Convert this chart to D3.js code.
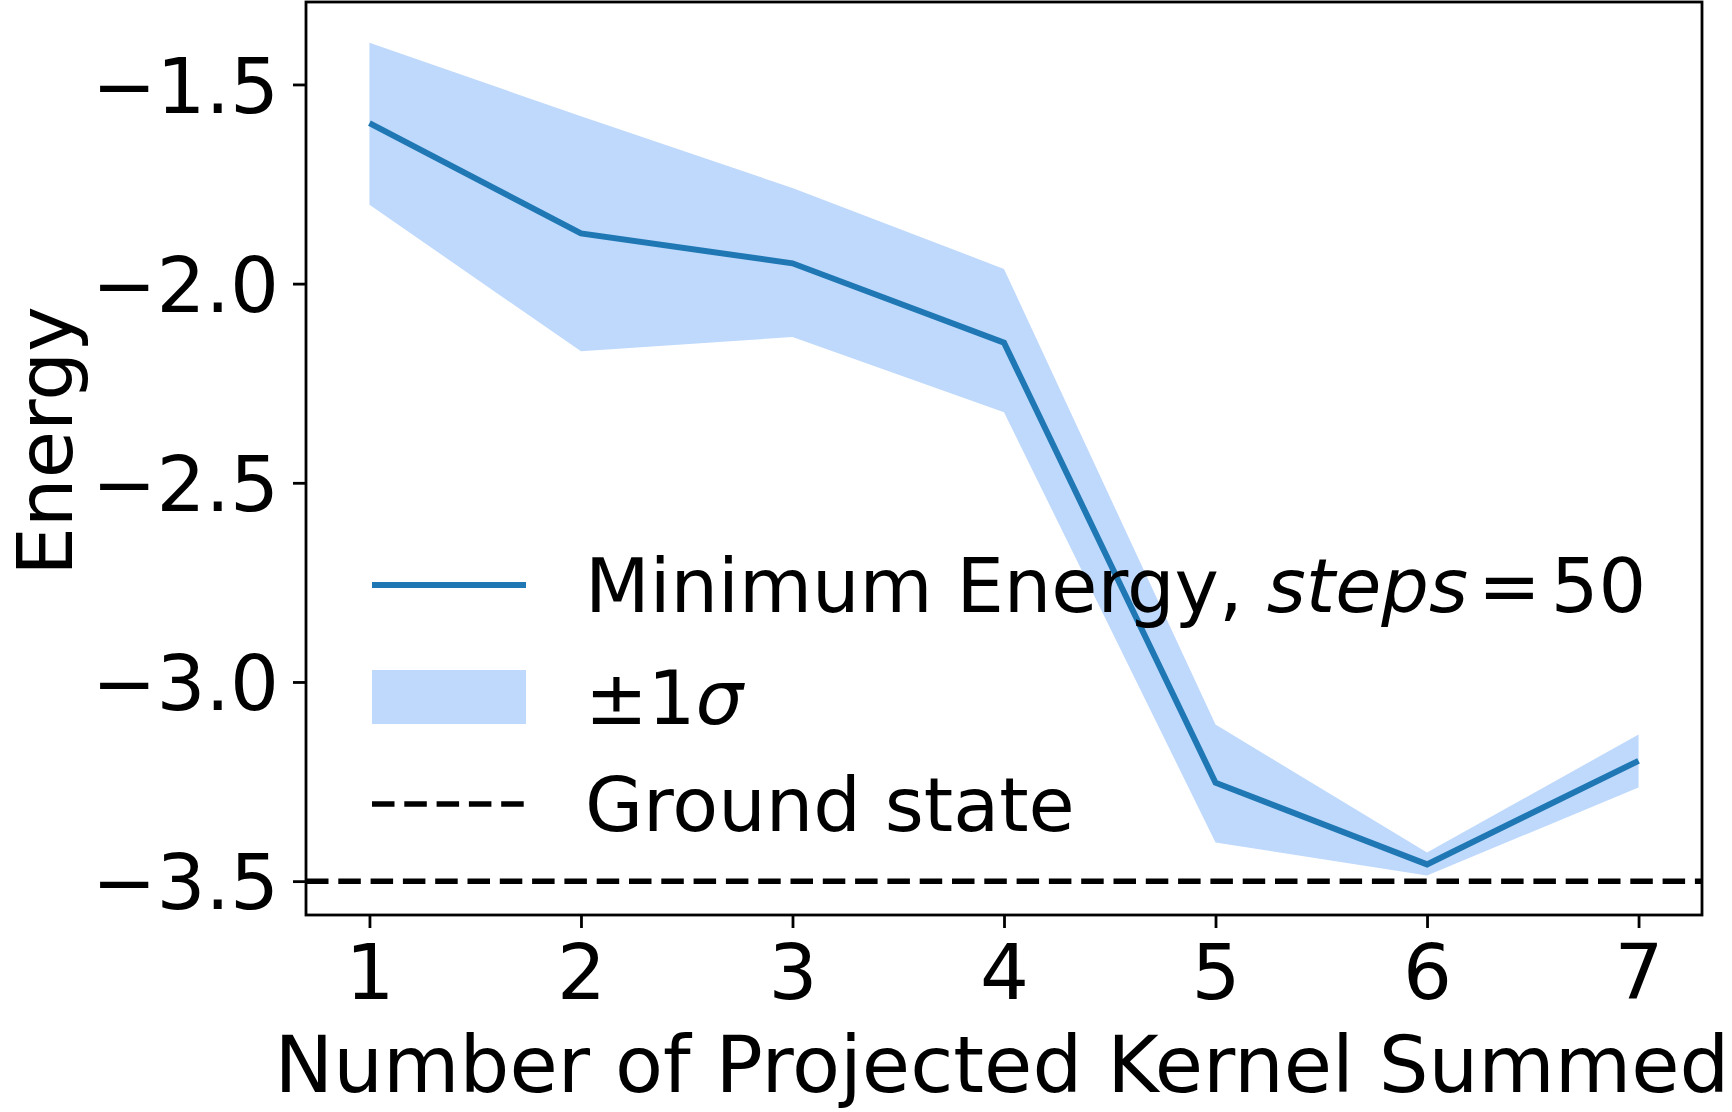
<!DOCTYPE html>
<html>
<head>
<meta charset="utf-8">
<script src="https://cdn.jsdelivr.net/npm/d3@7"></script>
<style>
    body { margin: 0; background: #fff; }
    svg { display: block; font-family: 'DejaVu Sans', sans-serif; }
    .axis text { font-family: 'DejaVu Sans', sans-serif; font-size: 77px; fill: #000; }
    .axis path, .axis line { stroke: #000; stroke-width: 2.8; }
</style>
</head>
<body>
<svg id="chart"></svg>
<script>
const kernels = [1, 2, 3, 4, 5, 6, 7]
const minEnergy = [-1.597, -1.874, -1.949, -2.148, -3.253, -3.458, -3.198]
const upperBand = [-1.395, -1.580, -1.760, -1.963, -3.107, -3.428, -3.132]
const lowerBand = [-1.802, -2.170, -2.134, -2.323, -3.403, -3.486, -3.265]
const groundState = -3.5
const xTicks = [1, 2, 3, 4, 5, 6, 7]
const yTicks = [-1.5, -2.0, -2.5, -3.0, -3.5]

const WIDTH = 1732
const HEIGHT = 1112
const padding = { top: 2, right: 30, bottom: 197, left: 306 }

const LINE_COLOR = '#1f77b4'
const BAND_COLOR = '#bfd9fc'
const LABEL_FONT = 78.5
const LEGEND_FONT = 75
const DASHES = '22.5 9.8'

const svg = d3.select('#chart')
    .attr('width', WIDTH)
    .attr('height', HEIGHT)
    .attr('viewBox', [0, 0, WIDTH, HEIGHT].join(' '))

const x = d3.scaleLinear()
    .domain([0.7, 7.3])
    .range([padding.left, WIDTH - padding.right])

const y = d3.scaleLinear()
    .domain([-3.585, -1.293])
    .range([HEIGHT - padding.bottom, padding.top])

const rows = kernels.map((k, i) => ({ k, mean: minEnergy[i], hi: upperBand[i], lo: lowerBand[i] }))

// the ±1σ band
svg.append('path')
    .datum(rows)
    .attr('fill', BAND_COLOR)
    .attr('d', d3.area().x(d => x(d.k)).y0(d => y(d.lo)).y1(d => y(d.hi)))

// mean line
svg.append('path')
    .datum(rows)
    .attr('fill', 'none')
    .attr('stroke', LINE_COLOR)
    .attr('stroke-width', 6)
    .attr('d', d3.line().x(d => x(d.k)).y(d => y(d.mean)))

// ground state
svg.append('line')
    .attr('x1', x.range()[0]).attr('x2', x.range()[1])
    .attr('y1', y(groundState)).attr('y2', y(groundState))
    .attr('stroke', '#000')
    .attr('stroke-width', 5.5)
    .attr('stroke-dasharray', DASHES)

// frame
svg.append('rect')
    .attr('x', x.range()[0]).attr('y', y.range()[1])
    .attr('width', x.range()[1] - x.range()[0])
    .attr('height', y.range()[0] - y.range()[1])
    .attr('fill', 'none')
    .attr('stroke', '#000')
    .attr('stroke-width', 2.8)

const xAxis = d3.axisBottom(x).tickValues(xTicks).tickSize(13).tickPadding(16).tickFormat(d3.format('d'))
svg.append('g')
    .attr('class', 'axis')
    .attr('transform', `translate(0,${y.range()[0]})`)
    .call(xAxis)
    .call(g => g.select('.domain').remove())

const yAxis = d3.axisLeft(y).tickValues(yTicks).tickSize(13).tickPadding(14)
    .tickFormat(d => d3.format('.1f')(d).replace('-', '\u2212'))
svg.append('g')
    .attr('class', 'axis')
    .attr('transform', `translate(${x.range()[0]},0)`)
    .call(yAxis)
    .call(g => g.select('.domain').remove())
    .call(g => g.selectAll('text').attr('dy', '0.36em'))

// axis labels
svg.append('text')
    .attr('x', (x.range()[0] + x.range()[1]) / 2 - 2)
    .attr('y', 1092)
    .attr('text-anchor', 'middle')
    .attr('font-size', LABEL_FONT)
    .text('Number of Projected Kernel Summed')

svg.append('text')
    .attr('transform', 'translate(72,441) rotate(-90)')
    .attr('text-anchor', 'middle')
    .attr('font-size', 77)
    .text('Energy')

// legend (no frame)
const legend = svg.append('g').attr('transform', 'translate(372,0)')
const handleLen = 154
const textX = 213

legend.append('line')
    .attr('x1', 0).attr('x2', handleLen)
    .attr('y1', 585).attr('y2', 585)
    .attr('stroke', LINE_COLOR).attr('stroke-width', 6)
const t1 = legend.append('text').attr('x', textX).attr('y', 585).attr('dy', '0.36em').attr('font-size', LEGEND_FONT)
t1.append('tspan').text('Minimum Energy, ')
t1.append('tspan').attr('font-style', 'italic').text('steps')
t1.append('tspan').attr('dx', 10).text('=')
t1.append('tspan').attr('dx', 10).text('50')

legend.append('rect')
    .attr('x', 0).attr('y', 670)
    .attr('width', handleLen).attr('height', 54)
    .attr('fill', BAND_COLOR)
const t2 = legend.append('text').attr('x', textX).attr('y', 697).attr('dy', '0.36em').attr('font-size', LEGEND_FONT)
t2.append('tspan').text('\u00b11')
t2.append('tspan').attr('font-style', 'italic').text('\u03c3')

legend.append('line')
    .attr('x1', 0).attr('x2', handleLen)
    .attr('y1', 804).attr('y2', 804)
    .attr('stroke', '#000').attr('stroke-width', 5.5)
    .attr('stroke-dasharray', DASHES)
legend.append('text').attr('x', textX).attr('y', 804).attr('dy', '0.36em').attr('font-size', LEGEND_FONT)
    .text('Ground state')
</script>
</body>
</html>
